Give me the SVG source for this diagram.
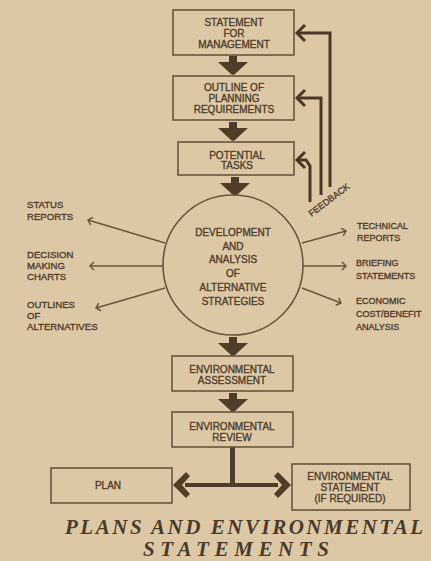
<svg xmlns="http://www.w3.org/2000/svg" width="431" height="561" viewBox="0 0 431 561">
<style>
.bg{fill:#ddc8a6}
.box{fill:none;stroke:#6a5539;stroke-width:1.6}
.t{font-family:"Liberation Sans",Arial,sans-serif;font-size:10px;fill:#4f3d2a;stroke:#4f3d2a;stroke-width:0.35;text-anchor:middle}
.s{font-family:"Liberation Sans",Arial,sans-serif;font-size:9.6px;fill:#4f3d2a;stroke:#4f3d2a;stroke-width:0.35}
.r{font-size:9px}
.spoke{fill:none;stroke:#6a5539;stroke-width:1.4;marker-end:url(#tick)}
.fb{fill:none;stroke:#4a3825;stroke-width:3}
.ah{fill:none;stroke:#4a3825;stroke-width:3;stroke-linejoin:miter}
.blk{fill:#4f3d2a}
.title{font-family:"Liberation Serif","Times New Roman",serif;font-size:21px;font-weight:bold;font-style:italic;fill:#4a3a2a;text-anchor:middle}
</style>
<defs>
<marker id="tick" viewBox="-6 -5 8 10" markerWidth="8" markerHeight="10" refX="0" refY="0" orient="auto" markerUnits="userSpaceOnUse">
<path d="M-4,-4 L0,0 L-4,4" fill="none" stroke="#6a5539" stroke-width="1.5"/>
</marker>
<path id="dn" d="M-4,0 H4 V6 H15 L2,18 L0,19 L-2,18 L-15,6 H-4 Z"/>
</defs>
<rect class="bg" x="0" y="0" width="431" height="561"/>

<g id="connectors">
<use href="#dn" class="blk" x="233" y="56"/>
<use href="#dn" class="blk" x="233" y="122"/>
<use href="#dn" class="blk" x="235" y="177"/>
<use href="#dn" class="blk" x="233" y="337"/>
<use href="#dn" class="blk" x="233" y="393"/>
<rect class="blk" x="230" y="447" width="5" height="38"/>
<path class="blk" d="M185,483 H278 V487 H185 Z"/>
<path class="blk" d="M173,485 L186,472 L190,476 L182,485 L190,494 L186,498 Z"/>
<path class="blk" d="M291,485 L278,472 L274,476 L282,485 L274,494 L278,498 Z"/>
<path class="fb" d="M297,33 H330 V187"/>
<path class="fb" d="M297,98 H321 V195"/>
<path class="fb" d="M297,160 H306 L310,166 V202"/>
<polyline class="ah" points="305,25 297,33 305,41"/>
<polyline class="ah" points="305,90 297,98 305,106"/>
<polyline class="ah" points="305,152 297,160 305,168"/>
<line class="spoke" x1="165" y1="243" x2="88" y2="220"/>
<line class="spoke" x1="163" y1="266" x2="90" y2="266"/>
<line class="spoke" x1="165" y1="288" x2="96" y2="308"/>
<line class="spoke" x1="302" y1="243" x2="346" y2="231"/>
<line class="spoke" x1="303" y1="266" x2="346" y2="266"/>
<line class="spoke" x1="302" y1="288" x2="341" y2="303"/>
<text class="s" style="font-size:9px" transform="translate(329,200) rotate(-37)" text-anchor="middle" y="3">FEEDBACK</text>
</g>

<g id="n1"><rect class="box" x="173" y="10" width="121" height="45"/>
<text class="t" x="234" y="26">STATEMENT</text><text class="t" x="234" y="37">FOR</text><text class="t" x="234" y="48">MANAGEMENT</text></g>
<g id="n2"><rect class="box" x="173" y="76" width="121" height="44"/>
<text class="t" x="234" y="91">OUTLINE OF</text><text class="t" x="234" y="102">PLANNING</text><text class="t" x="234" y="113">REQUIREMENTS</text></g>
<g id="n3"><rect class="box" x="178" y="142" width="116" height="33"/>
<text class="t" x="237" y="159">POTENTIAL</text><text class="t" x="237" y="169">TASKS</text></g>
<g id="n4"><circle cx="233" cy="265" r="70" fill="none" stroke="#6a5539" stroke-width="1.6"/>
<text class="t" x="233" y="236">DEVELOPMENT</text><text class="t" x="233" y="250">AND</text><text class="t" x="233" y="263">ANALYSIS</text><text class="t" x="233" y="277">OF</text><text class="t" x="233" y="291">ALTERNATIVE</text><text class="t" x="233" y="305">STRATEGIES</text></g>
<g id="n5"><rect class="box" x="172" y="356" width="121" height="35"/>
<text class="t" x="232" y="373">ENVIRONMENTAL</text><text class="t" x="232" y="384">ASSESSMENT</text></g>
<g id="n6"><rect class="box" x="172" y="412" width="121" height="35"/>
<text class="t" x="232" y="430">ENVIRONMENTAL</text><text class="t" x="232" y="441">REVIEW</text></g>
<g id="n7"><rect class="box" x="51" y="468" width="121" height="35"/>
<text class="t" x="108" y="489">PLAN</text></g>
<g id="n8"><rect class="box" x="292" y="464" width="118" height="46"/>
<text class="t" x="350" y="480">ENVIRONMENTAL</text><text class="t" x="350" y="491">STATEMENT</text><text class="t" x="350" y="502">(IF REQUIRED)</text></g>

<g id="n9"><text class="s" x="27" y="208">STATUS</text><text class="s" x="27" y="220">REPORTS</text></g>
<g id="n10"><text class="s" x="27" y="258">DECISION</text><text class="s" x="27" y="269">MAKING</text><text class="s" x="27" y="280">CHARTS</text></g>
<g id="n11"><text class="s" x="27" y="308">OUTLINES</text><text class="s" x="27" y="319">OF</text><text class="s" x="27" y="330">ALTERNATIVES</text></g>
<g id="n12"><text class="s r" x="357" y="229">TECHNICAL</text><text class="s r" x="357" y="241">REPORTS</text></g>
<g id="n13"><text class="s r" x="356" y="266">BRIEFING</text><text class="s r" x="356" y="279">STATEMENTS</text></g>
<g id="n14"><text class="s r" x="356" y="304">ECONOMIC</text><text class="s r" x="356" y="317">COST/BENEFIT</text><text class="s r" x="356" y="330">ANALYSIS</text></g>

<g id="title">
<text class="title" x="244" y="534" textLength="358" lengthAdjust="spacing">PLANS AND ENVIRONMENTAL</text>
<text class="title" x="236" y="556" textLength="186" lengthAdjust="spacing">STATEMENTS</text>
</g>
</svg>
